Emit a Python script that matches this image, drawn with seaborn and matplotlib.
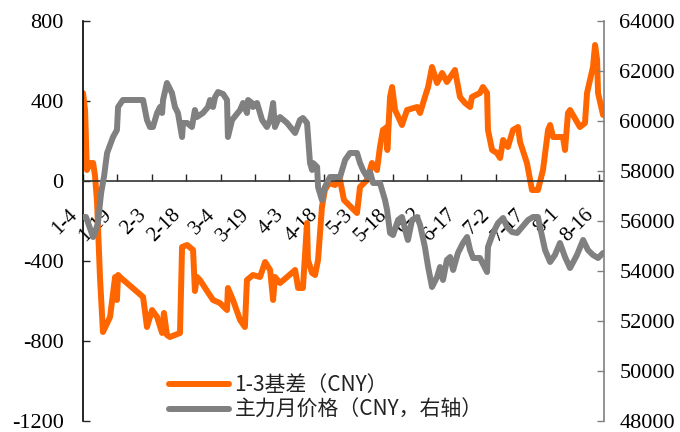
import matplotlib
matplotlib.use("Agg")
import matplotlib.pyplot as plt
import matplotlib.transforms as mtransforms
import pandas as pd
import seaborn as sns

# x = days after Jan 4
basis_day = [0, 0.9, 1.7, 3.1, 4.4, 5.2, 6.1, 7.4, 8.7, 11.8, 14.0, 14.8, 15.3, 16.1, 26.2,
             27.9, 30.1, 32.3, 34.5, 35.3, 36.6, 37.9, 42.3, 43.2, 45.4, 48.0, 48.8, 49.7,
             51.0, 54.1, 56.7, 59.7, 62.8, 63.2, 65.4, 68.5, 70.6, 71.5, 74.1, 77.2, 79.4,
             81.6, 82.9, 83.7, 85.9, 89.0, 92.5, 93.8, 95.9, 97.7, 98.1, 99.9, 101.2, 102.5,
             104.2, 105.5, 107.3, 109.9, 112.1, 113.8, 115.1, 119.5, 120.8, 123.9, 126.0,
             128.2, 129.5, 130.8, 132.6, 132.7, 133.9, 134.8, 136.1, 139.1, 141.3, 145.7,
             147.0, 149.1, 150.5, 152.2, 154.4, 156.6, 158.7, 162.2, 164.4, 166.6, 168.8,
             169.6, 173.1, 174.4, 176.2, 176.6, 178.4, 180.5, 181.9, 183.2, 185.3, 187.5,
             189.7, 190.6, 193.6, 195.8, 198.4, 200.6, 202.8, 203.7, 205.0, 209.3, 210.2,
             211.5, 212.4, 216.7, 218.9, 219.8, 222.4, 223.3, 224.2, 224.6, 226.8]
basis_val = [440, 355, 55, 90, 90, 30, -100, -480, -755, -680, -480, -595, -470, -480, -580,
             -730, -645, -680, -760, -660, -770, -780, -760, -330, -320, -345, -550, -480,
             -495, -550, -595, -610, -645, -535, -595, -695, -730, -495, -470, -480, -405,
             -445, -595, -480, -510, -480, -445, -535, -535, -210, -395, -460, -470, -395,
             -130, -45, -10, -20, 5, -95, -110, -160, -30, 5, 90,
             55, 170, 255, 270, 155, 420, 470, 355, 280, 355, 370,
             340, 420, 470, 570, 490, 540, 495, 555, 420, 390, 370,
             420, 440, 470, 440, 255, 155, 140, 115, 205, 170, 255,
             270, 195, 90, -45, -45, 55, 255, 280, 220, 220, 155,
             340, 355, 270, 290, 440, 570, 680, 605, 440, 330]

price_day = [0, 1.3, 4.4, 5.2, 6.5, 7.9, 9.2, 10.5, 13.1, 14.8, 15.3, 17.4, 26.2, 27.9, 29.2,
             30.5, 32.3, 33.6, 34.5, 34.9, 36.6, 38.8, 40.1, 41.4, 43.2, 43.6, 45.4, 47.5,
             48.8, 49.7, 52.3, 54.5, 55.4, 56.7, 57.6, 58.9, 61.1, 62.8, 63.2, 65.0, 68.5,
             69.8, 71.5, 72.0, 73.7, 74.1, 75.9, 78.1, 80.2, 81.6, 82.4, 82.9, 83.7, 85.0,
             85.9, 89.0, 92.5, 94.6, 95.9, 97.7, 99.0, 99.9, 100.3, 102.1, 102.5, 104.2,
             105.5, 107.7, 110.8, 112.1, 114.3, 116.4, 119.5, 120.8, 122.1, 123.9, 125.2,
             126.5, 129.5, 131.7, 132.6, 133.9, 135.2, 137.4, 139.1, 141.3, 141.7, 143.5,
             145.7, 147.0, 149.1, 150.5, 152.2, 154.4, 155.7, 157.0, 158.7, 160.1, 161.4,
             163.5, 165.7, 167.5, 168.8, 170.1, 173.1, 176.2, 176.6, 178.8, 181.0, 183.2,
             184.9, 187.1, 189.3, 191.5, 194.1, 196.2, 198.4, 199.3, 201.5, 203.7, 205.8,
             208.0, 210.2, 212.4, 215.4, 218.1, 220.2, 222.4, 224.6, 226.8]
price_val = [56160, 56160, 55360, 55520, 55920, 57120, 57800, 58720, 59360, 59640, 60560,
             60840, 60840, 60040, 59760, 59760, 60320, 60560, 60320, 60840, 61520, 61120,
             60560, 60320, 59360, 59920, 59920, 59760, 60440, 60160, 60320, 60560, 60840,
             60560, 60960, 61160, 61080, 60840, 59360, 60040, 60440, 60720, 60320, 60840,
             60720, 60560, 60720, 60040, 59760, 60040, 60440, 60720, 59760, 60040, 60160,
             59920, 59520, 60040, 60120, 59920, 58320, 58040, 58320, 58160, 57360, 56840,
             57360, 57760, 57760, 57760, 58440, 58720, 58720, 58320, 58040, 57760, 57960,
             57520, 57520, 56840, 56440, 55520, 55440, 56040, 56160, 55360, 55240, 56040,
             56160, 55840, 54960, 54160, 53360, 53760, 54160, 53640, 54440, 54560, 54040,
             54720, 55120, 55360, 54840, 54520, 54520, 53960, 54960, 55520, 55920, 56120,
             55760, 55560, 55520, 55760, 56040, 56160, 56160, 55760, 54840, 54360, 54640,
             55120, 54560, 54120, 54640, 55240, 54840, 54640, 54520, 54720]

tick_days = [0, 15, 30, 45, 60, 75, 90, 105, 120, 135, 150, 165, 180, 195, 210, 225]
tick_labels = ["1-4", "1-19", "2-3", "2-18", "3-4", "3-19", "4-3", "4-18",
               "5-3", "5-18", "6-2", "6-17", "7-2", "7-17", "8-1", "8-16"]

basis = pd.DataFrame({"day": basis_day, "val": basis_val})
price = pd.DataFrame({"day": price_day, "val": price_val})

sns.set_style("white")
plt.rcParams["font.family"] = "Liberation Serif"

orange = "#FF6600"
grey = "#808080"

fig = plt.figure(figsize=(6.8, 4.32), dpi=100)
ax = fig.add_axes([83 / 680, 11 / 432, 521 / 680, 400 / 432])
ax2 = ax.twinx()

line_kw = dict(estimator=None, sort=False, lw=4.3, legend=False,
               solid_joinstyle="round", solid_capstyle="round")
sns.lineplot(data=basis, x="day", y="val", color=orange, ax=ax,
             label="1-3基差（CNY）", **line_kw)
sns.lineplot(data=price, x="day", y="val", color=grey, ax=ax2,
             label="主力月价格（CNY，右轴）", **line_kw)

ax.set_xlim(0, 227.2)
ax.set_ylim(-1200, 800)
ax2.set_ylim(48000, 64000)
ax.set_xlabel("")
ax.set_ylabel("")
ax2.set_ylabel("")

ax.set_yticks([-1200, -800, -400, 0, 400, 800])
ax.set_yticklabels(["-1200", "-800", "-400", "0", "400", "800"])
ax2.set_yticks(range(48000, 64001, 2000))
ax2.set_yticklabels([str(v) for v in range(48000, 64001, 2000)])

for side in ["top", "right"]:
    ax.spines[side].set_visible(False)
for side in ["top", "left", "bottom"]:
    ax2.spines[side].set_visible(False)
ax.spines["left"].set_color("black")
ax.spines["bottom"].set_position(("data", 0))
ax.spines["bottom"].set_color("#333333")
ax2.spines["right"].set_color(grey)
for sp in [ax.spines["left"], ax.spines["bottom"], ax2.spines["right"]]:
    sp.set_linewidth(1.2)

ax.tick_params(axis="y", direction="in", length=5, width=1, pad=14, labelsize=16,
               left=True, labelfontfamily="Liberation Serif", labelcolor="black")
ax2.tick_params(axis="y", direction="in", length=5, width=1, pad=11, labelsize=16,
                right=True, color=grey, labelfontfamily="Liberation Serif",
                labelcolor="black")
ax.set_xticks(tick_days)
ax.set_xticklabels(tick_labels, rotation=45, ha="right", va="top",
                   rotation_mode="anchor")
ax.tick_params(axis="x", direction="in", length=5, width=1, pad=0, bottom=True,
               labelsize=15, labelfontfamily="Liberation Serif", labelcolor="black")
# labels sit a bit left of and below their ticks, as in the original
shift = mtransforms.ScaledTranslation(-0.15, -0.24, fig.dpi_scale_trans)
for lab in ax.get_xticklabels():
    lab.set_transform(lab.get_transform() + shift)

h1, l1 = ax.get_legend_handles_labels()
h2, l2 = ax2.get_legend_handles_labels()
leg = ax2.legend(h1 + h2, l1 + l2, loc="lower left", bbox_to_anchor=(150 / 680, -0.018),
                 bbox_transform=fig.transFigure, frameon=False,
                 prop={"family": ["Noto Sans CJK SC", "DejaVu Sans"], "size": 15},
                 handlelength=2.9, handletextpad=0.25, labelspacing=0.15)
for t in leg.get_texts():
    t.set_color("#222222")

fig.savefig("out.png", dpi=100)
